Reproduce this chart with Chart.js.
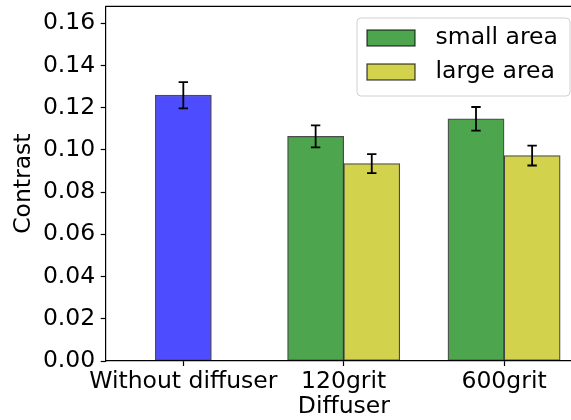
<!DOCTYPE html>
<html>
<head>
<meta charset="utf-8">
<script src="https://cdn.jsdelivr.net/npm/chart.js@4.4.1/dist/chart.umd.min.js"></script>
<style>
  html, body { margin: 0; padding: 0; background: #fff; overflow: hidden; }
  #wrap { width: 600px; height: 420px; }
</style>
</head>
<body>
<div id="wrap"><canvas id="chart" width="600" height="420"></canvas></div>
<script>
// Data
const categories = ['Without diffuser', '120grit', '600grit'];
const yTicks = [0, 0.02, 0.04, 0.06, 0.08, 0.10, 0.12, 0.14, 0.16];

const noDiffuserGroups = [0];
const noDiffuser = [0.1259];
const noDiffuserErr = [0.0062];

const gritGroups = [1, 2];
const smallArea = [0.1064, 0.1147];
const smallAreaErr = [0.0052, 0.0056];
const largeArea = [0.0935, 0.0973];
const largeAreaErr = [0.0045, 0.0047];

const barWidth = 0.35;
const font = 'DejaVu Sans';
const fontSize = 23.5;

// Build points (bar centre = group index + offset within the group)
function points(groups, values, offset) {
  return values.map((v, i) => ({ x: groups[i] + offset, y: v }));
}

const edge = 'rgba(0, 0, 0, 0.7)';

// Error bars drawn on top of the bars
const errorBars = {
  id: 'errorBars',
  afterDatasetsDraw(chart) {
    const ctx = chart.ctx;
    const yScale = chart.scales.y;
    ctx.save();
    ctx.strokeStyle = '#000';
    ctx.lineWidth = 1.8;
    chart.data.datasets.forEach((ds, i) => {
      const meta = chart.getDatasetMeta(i);
      meta.data.forEach((bar, j) => {
        const v = ds.data[j].y;
        const e = ds.errors[j];
        const top = yScale.getPixelForValue(v + e);
        const bottom = yScale.getPixelForValue(v - e);
        const cap = 4.7;
        ctx.beginPath();
        ctx.moveTo(bar.x, top);
        ctx.lineTo(bar.x, bottom);
        ctx.moveTo(bar.x - cap, top);
        ctx.lineTo(bar.x + cap, top);
        ctx.moveTo(bar.x - cap, bottom);
        ctx.lineTo(bar.x + cap, bottom);
        ctx.stroke();
      });
    });
    ctx.restore();
  }
};

// Top spine (matplotlib-style frame)
const frame = {
  id: 'frame',
  afterDraw(chart) {
    const { ctx, chartArea } = chart;
    ctx.save();
    ctx.strokeStyle = '#000';
    ctx.lineWidth = 1.2;
    ctx.beginPath();
    ctx.moveTo(chartArea.left, chartArea.top);
    ctx.lineTo(chartArea.right, chartArea.top);
    ctx.lineTo(chartArea.right, chartArea.bottom);
    ctx.stroke();
    ctx.restore();
  }
};

// Legend box in the upper right corner of the axes
const boxLegend = {
  id: 'boxLegend',
  afterDraw(chart) {
    const ctx = chart.ctx;
    const items = chart.data.datasets.filter(ds => ds.label);
    const x0 = 357, y0 = 18, w = 213, h = 78, r = 4;
    ctx.save();
    ctx.fillStyle = 'rgba(255, 255, 255, 0.8)';
    ctx.strokeStyle = '#d0d0d0';
    ctx.lineWidth = 1;
    ctx.beginPath();
    ctx.roundRect(x0, y0, w, h, r);
    ctx.fill();
    ctx.stroke();
    ctx.font = fontSize + 'px "' + font + '"';
    ctx.textBaseline = 'middle';
    ctx.fillStyle = '#000';
    items.forEach((ds, i) => {
      const cy = 38 + i * 34;
      ctx.fillStyle = ds.backgroundColor;
      ctx.fillRect(367, cy - 8, 48, 16);
      ctx.strokeStyle = edge;
      ctx.lineWidth = 1.3;
      ctx.strokeRect(367, cy - 8, 48, 16);
      ctx.fillStyle = '#000';
      ctx.fillText(ds.label, 435.5, cy);
    });
    ctx.restore();
  }
};

Chart.defaults.font.family = font;
Chart.defaults.font.size = fontSize;
Chart.defaults.color = '#000';

new Chart(document.getElementById('chart'), {
  type: 'bar',
  data: {
    datasets: [
      {
        label: '',
        data: points(noDiffuserGroups, noDiffuser, 0),
        errors: noDiffuserErr,
        backgroundColor: 'rgb(77, 77, 255)'
      },
      {
        label: 'small area',
        data: points(gritGroups, smallArea, -barWidth / 2),
        errors: smallAreaErr,
        backgroundColor: 'rgb(77, 166, 77)'
      },
      {
        label: 'large area',
        data: points(gritGroups, largeArea, barWidth / 2),
        errors: largeAreaErr,
        backgroundColor: 'rgb(210, 210, 77)'
      }
    ]
  },
  options: {
    responsive: false,
    animation: false,
    devicePixelRatio: 1,
    layout: { padding: { top: 6.3, right: 18, bottom: 0, left: 0 } },
    datasets: {
      bar: {
        grouped: false,
        categoryPercentage: 1,
        barPercentage: 1,
        borderColor: edge,
        borderWidth: 1.3,
        borderSkipped: false
      }
    },
    plugins: {
      legend: { display: false },
      tooltip: { enabled: false }
    },
    scales: {
      x: {
        type: 'linear',
        offset: false,
        min: -0.484,
        max: 2.486,
        afterBuildTicks: s => { s.ticks = categories.map((c, i) => ({ value: i })); },
        afterFit: s => { s.height = 59; s.paddingLeft = 0; s.paddingRight = 0; },
        ticks: {
          callback: v => categories[v],
          autoSkip: false,
          maxRotation: 0,
          minRotation: 0,
          padding: 2,
          color: '#000'
        },
        grid: { offset: false, drawOnChartArea: false, tickLength: 5, tickColor: '#000', tickWidth: 1.2 },
        border: { color: '#000', width: 1.2 },
        title: {
          display: true,
          text: 'Diffuser',
          color: '#000',
          font: { size: fontSize, lineHeight: 1 },
          padding: { top: 0, bottom: 1.5 }
        }
      },
      y: {
        min: 0,
        max: 0.168,
        afterBuildTicks: s => { s.ticks = yTicks.map(v => ({ value: v })); },
        afterFit: s => { s.width = 105.7; s.paddingTop = 0; s.paddingBottom = 0; },
        ticks: {
          callback: v => v.toFixed(2),
          padding: 5.5,
          color: '#000'
        },
        grid: { drawOnChartArea: false, tickLength: 5, tickColor: '#000', tickWidth: 1.2 },
        border: { color: '#000', width: 1.2 },
        title: {
          display: true,
          text: 'Contrast',
          color: '#000',
          font: { size: fontSize, lineHeight: 1 },
          padding: { top: 12.3, bottom: 0 }
        }
      }
    }
  },
  plugins: [errorBars, frame, boxLegend]
});
</script>
</body>
</html>
